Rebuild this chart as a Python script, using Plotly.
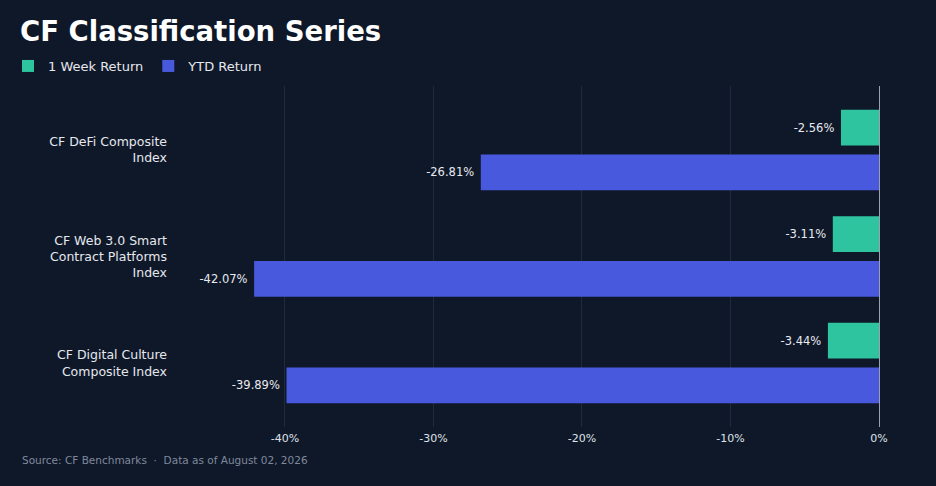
import plotly.graph_objects as go

categories = ["CF DeFi Composite<br>Index",
              "CF Web 3.0 Smart<br>Contract Platforms<br>Index",
              "CF Digital Culture<br>Composite Index"]
week_return = [-2.56, -3.11, -3.44]
ytd_return = [-26.81, -42.07, -39.89]
x_ticks = [-40, -30, -20, -10, 0]
x_tick_labels = ["-40%", "-30%", "-20%", "-10%", "0%"]

BG = "#0f1829"
FONT = "DejaVu Sans"
PL, PR, PT, PB = 176, 879, 86, 427   # plot area in pixels
PW, PH = PR - PL, PB - PT

fig = go.Figure()
fig.add_trace(go.Bar(
    name="1 Week Return", y=categories, x=week_return, orientation="h",
    marker=dict(color="#2fc4a0", line=dict(width=0)),
    text=[f"{v:.2f}%\u00a0" for v in week_return], textposition="outside",
    textfont=dict(color="#e8eaef", size=11.5, family=FONT), cliponaxis=False,
))
fig.add_trace(go.Bar(
    name="YTD Return", y=categories, x=ytd_return, orientation="h",
    marker=dict(color="#4959dd", line=dict(width=0)),
    text=[f"{v:.2f}%\u00a0" for v in ytd_return], textposition="outside",
    textfont=dict(color="#e8eaef", size=11.5, family=FONT), cliponaxis=False,
))

fig.update_layout(
    width=936, height=486,
    paper_bgcolor=BG, plot_bgcolor=BG,
    font=dict(family=FONT, color="#e6e8ee"),
    barmode="group", bargap=0.16, bargroupgap=0.2,
    margin=dict(l=PL, r=936 - PR, t=PT, b=486 - PB, autoexpand=False),
    title=dict(text="<b>CF Classification Series</b>", xref="container", yref="container",
               x=20/936, y=1-31/486, xanchor="left", yanchor="middle",
               font=dict(size=27.5, color="#ffffff", family=FONT)),
    legend=dict(orientation="h", xref="paper", yref="paper",
                x=(8 - PL)/PW, y=(PB - 66)/PH, xanchor="left", yanchor="middle",
                font=dict(size=13, color="#e6e8ee"), bgcolor="rgba(0,0,0,0)",
                traceorder="normal"),
    xaxis=dict(range=[-47.33, 0], tickvals=x_ticks, ticktext=x_tick_labels,
               showgrid=True, gridcolor="#1f2b3d", gridwidth=1,
               zeroline=True, zerolinecolor="#9aa1ad", zerolinewidth=1.2,
               tickfont=dict(size=11, color="#dfe2e8"), showline=False, automargin=False,
               ticklabelstandoff=3),
    yaxis=dict(range=[2.6, -0.6], showgrid=False, zeroline=False, automargin=False,
               tickfont=dict(size=12.5, color="#e6e8ee"), ticklabelstandoff=8),
    annotations=[dict(text="Source: CF Benchmarks  ·  Data as of August 02, 2026",
                      xref="paper", yref="paper", x=(20 - PL)/PW, y=(PB - 460)/PH,
                      xanchor="left", yanchor="middle", showarrow=False,
                      font=dict(size=10.5, color="#7f889b", family=FONT))],
)

fig.write_html("out.html", config={"displayModeBar": False},
               post_script="document.body.style.margin='0';document.body.style.overflow='hidden';document.body.style.background='" + BG + "';")
